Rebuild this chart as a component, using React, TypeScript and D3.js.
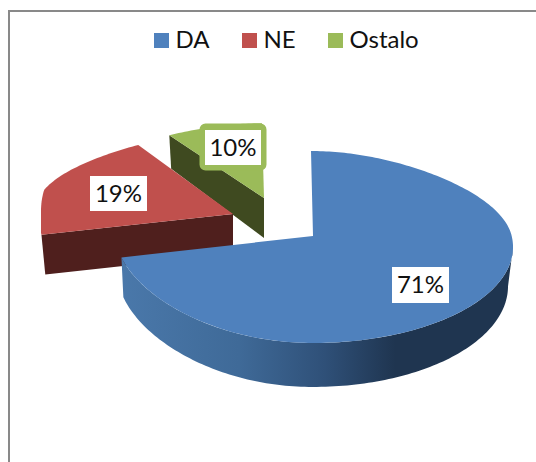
import React from "react";
import * as d3 from "d3";

const categories = ["DA", "NE", "Ostalo"];
const values = [71, 19, 10];
const labels = ["71%", "19%", "10%"];
const topColors = ["#4f81bd", "#c0504d", "#9bbb59"];
const wallColors = ["url(#blueWall)", "#4f1f1d", "#3f4a20"];

const FONT = "Lato, 'Open Sans', sans-serif";
const apexes = [
  { x: 313, y: 236, sy: 1, lowL: 0.99 },
  { x: 233, y: 214, sy: 0.97, lowL: 0.98 },
  { x: 264, y: 198, sy: 0.88, lowL: 0.98 },
];
const labelBoxes = [
  { x: 392, y: 267, w: 57, h: 36 },
  { x: 90, y: 176, w: 57, h: 35 },
  { x: 205, y: 130, w: 56, h: 35 },
];
const legendX = [154, 242, 328];

const RX_RIGHT = 198.7;
const RX_LEFT = 192;
const RY = 94.7;
const K = 0.1146;

type Apex = { x: number; y: number; sy: number; lowL: number };
type P = [number, number];

function offsetX(a: number) {
  const c = Math.cos(a);
  const s = Math.sin(a);
  const far = Math.pow(Math.max(0, c), 2);
  const lean = 2 * far;
  if (s >= 0) return (RX_RIGHT * s * (1 - 0.15 * far)) / (1 + K * c) - lean;
  return -RX_LEFT * Math.min(1, 1.03 * -s) * (1 - 0.3 * far) - lean;
}

function project(a: number, ap: Apex): P {
  const c = Math.cos(a);
  const s = Math.sin(a);
  const lift = s < 0 ? 3 * s * s : 0;
  return [ap.x + offsetX(a), ap.y - (RY * c * ap.sy) / (1 + K * c) - lift];
}

function depth(a: number) {
  const c = Math.cos(a);
  return c > 0 ? 40 - 8 * c : 38.5 - 5.5 * c;
}

function projectLow(a: number, ap: Apex): P {
  const [, y] = project(a, ap);
  const dx = offsetX(a);
  return [ap.x + dx * (dx < 0 ? ap.lowL : 0.975), y + depth(a)];
}

const line = d3.line<P>().x((d) => d[0]).y((d) => d[1]);

function arcAngles(a0: number, a1: number) {
  const n = Math.max(2, Math.ceil(Math.abs(a1 - a0) / 0.02));
  return d3.range(n + 1).map((i) => a0 + ((a1 - a0) * i) / n);
}

export default function App() {
  const pie = d3.pie<number>().sort(null)(values);
  const slices = pie.map((p, i) => {
    const ap = apexes[i];
    const angles = arcAngles(p.startAngle, p.endAngle);
    const top: P[] = [[ap.x, ap.y], ...angles.map((a) => project(a, ap))];
    let wall: P[];
    if (i === 0) {
      const w = arcAngles(Math.PI * 0.537, p.endAngle);
      wall = [...w.map((a) => project(a, ap)), ...w.slice().reverse().map((a) => projectLow(a, ap))];
    } else {
      const tipTop = project(p.startAngle, ap);
      const tipLow = projectLow(p.startAngle, ap);
      wall = [tipTop, [ap.x, ap.y], [ap.x, ap.y + 40], tipLow];
    }
    return { top, wall };
  });
  const order = [2, 1, 0];

  return (
    <svg width={536} height={462} style={{ position: "absolute", left: 0, top: 0 }} fontFamily={FONT}>
      <defs>
        <linearGradient id="blueWall" gradientUnits="userSpaceOnUse" x1={121} x2={513} y1={0} y2={0}>
          <stop offset="0" stopColor="#4a78aa" />
          <stop offset="0.3" stopColor="#3f6a98" />
          <stop offset="0.52" stopColor="#2f5078" />
          <stop offset="0.7" stopColor="#1f3550" />
          <stop offset="1" stopColor="#1f3550" />
        </linearGradient>
      </defs>
      <rect width={536} height={462} fill="#fff" />
      <path d="M9 462V11H536" fill="none" stroke="#898989" strokeWidth={2} />
      {categories.map((c, i) => (
        <g key={c}>
          <rect x={legendX[i]} y={33} width={15} height={15} fill={topColors[i]} />
          <text x={legendX[i] + 21.5} y={48} fontSize={24} fill="#111">{c}</text>
        </g>
      ))}
      {order.map((i) => (
        <g key={i}>
          <path d={line(slices[i].wall) + "Z"} fill={wallColors[i]} />
          <path d={line(slices[i].top) + "Z"} fill={topColors[i]} />
        </g>
      ))}
      <rect x={202.5} y={126.5} width={61} height={41} rx={3} fill="none" stroke="#9bbb59" strokeWidth={6} />
      {labels.map((l, i) => {
        const b = labelBoxes[i];
        return (
          <g key={l}>
            <rect x={b.x} y={b.y} width={b.w} height={b.h} fill="#fff" />
            <text x={b.x + b.w / 2} y={b.y + b.h / 2 + 8} textAnchor="middle" fontSize={24} fill="#111">{l}</text>
          </g>
        );
      })}
    </svg>
  );
}
